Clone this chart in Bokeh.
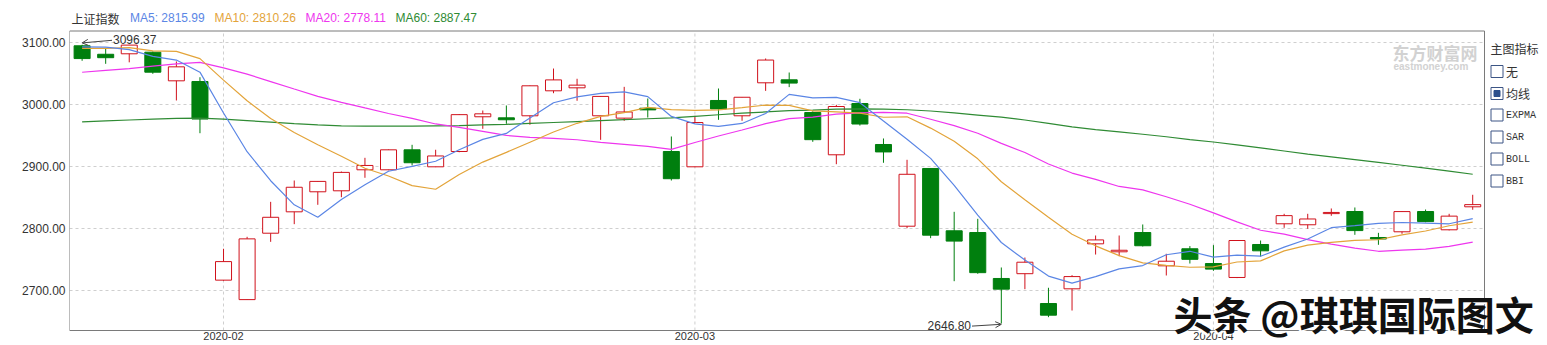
from bokeh.plotting import figure
from bokeh.models import (Range1d, FixedTicker, PrintfTickFormatter, Label, Arrow,
                          OpenHead, BoxAnnotation, ColumnDataSource)
from bokeh.embed import file_html
from bokeh.resources import INLINE

# ---------------- data ----------------
dates = ["2020-01-16", "2020-01-17", "2020-01-20", "2020-01-21", "2020-01-22", "2020-01-23",
         "2020-02-03", "2020-02-04", "2020-02-05", "2020-02-06", "2020-02-07", "2020-02-10",
         "2020-02-11", "2020-02-12", "2020-02-13", "2020-02-14", "2020-02-17", "2020-02-18",
         "2020-02-19", "2020-02-20", "2020-02-21", "2020-02-24", "2020-02-25", "2020-02-26",
         "2020-02-27", "2020-02-28", "2020-03-02", "2020-03-03", "2020-03-04", "2020-03-05",
         "2020-03-06", "2020-03-09", "2020-03-10", "2020-03-11", "2020-03-12", "2020-03-13",
         "2020-03-16", "2020-03-17", "2020-03-18", "2020-03-19", "2020-03-20", "2020-03-23",
         "2020-03-24", "2020-03-25", "2020-03-26", "2020-03-27", "2020-03-30", "2020-03-31",
         "2020-04-01", "2020-04-02", "2020-04-03", "2020-04-07", "2020-04-08", "2020-04-09",
         "2020-04-10", "2020-04-13", "2020-04-14", "2020-04-15", "2020-04-16", "2020-04-17"]

opens = [3094.7, 3081.0, 3081.8, 3084.4, 3038.2, 3037.1, 2716.7, 2685.3, 2792.4, 2826.9,
         2859.2, 2860.8, 2894.7, 2894.7, 2926.9, 2899.5, 2924.2, 2980.2, 2978.5, 2981.8,
         3022.1, 3026.9, 2981.8, 2978.0, 2994.0, 2924.2, 2899.5, 3006.5, 2981.8, 3035.0,
         3039.8, 2987.1, 2918.9, 3001.6, 2935.5, 2803.7, 2896.8, 2796.3, 2793.5, 2719.4,
         2727.1, 2679.0, 2702.7, 2775.3, 2762.4, 2793.5, 2739.8, 2767.3, 2743.5, 2721.0,
         2774.2, 2807.6, 2806.0, 2824.0, 2827.4, 2785.5, 2794.7, 2827.4, 2797.9, 2835.0]
highs = [3096.37, 3090.8, 3096.2, 3085.5, 3069.4, 3044.0, 2767.3, 2786.6, 2843.0, 2877.4,
         2876.4, 2891.9, 2914.0, 2927.5, 2935.0, 2927.0, 2984.5, 2990.3, 2998.4, 3030.6,
         3058.0, 3041.5, 3013.5, 3028.5, 3009.7, 2948.4, 2981.8, 3025.8, 3012.0, 3074.2,
         3051.6, 2989.0, 2999.5, 3009.2, 2945.2, 2910.8, 2897.5, 2826.9, 2815.6, 2737.1,
         2753.2, 2704.4, 2724.7, 2788.7, 2788.7, 2806.5, 2759.2, 2771.6, 2773.1, 2781.0,
         2780.6, 2823.7, 2823.7, 2832.3, 2833.9, 2793.0, 2828.0, 2830.6, 2823.7, 2854.4]
lows = [3070.5, 3065.6, 3068.0, 3049.5, 3006.5, 2953.7, 2715.5, 2685.3, 2778.5, 2807.0,
        2838.2, 2850.5, 2881.8, 2894.0, 2901.6, 2899.0, 2923.0, 2960.8, 2968.9, 2967.3,
        3018.2, 3006.0, 2943.0, 2973.7, 2979.0, 2877.4, 2899.0, 2975.3, 2973.7, 3022.0,
        3028.0, 2939.8, 2903.7, 2966.0, 2906.0, 2800.5, 2784.4, 2715.0, 2727.0, 2646.80,
        2702.1, 2657.0, 2667.7, 2758.0, 2755.3, 2771.0, 2724.2, 2743.5, 2731.8, 2720.0,
        2754.8, 2801.1, 2799.5, 2820.5, 2789.8, 2773.7, 2791.5, 2810.0, 2797.0, 2830.2]
closes = [3074.08, 3075.50, 3095.79, 3052.14, 3060.75, 2976.53, 2746.61, 2783.29, 2818.09, 2866.51,
          2875.96, 2890.49, 2901.67, 2926.90, 2906.07, 2917.01, 2983.62, 2984.97, 2975.40, 3030.15,
          3039.67, 3031.23, 3013.05, 2987.93, 2991.33, 2880.30, 2970.93, 2992.90, 3011.67, 3071.68,
          3034.51, 2943.29, 2996.76, 2968.52, 2923.49, 2887.43, 2789.25, 2779.64, 2728.76, 2702.13,
          2745.62, 2660.17, 2722.44, 2781.59, 2764.91, 2772.20, 2747.21, 2750.30, 2734.52, 2780.64,
          2763.99, 2820.76, 2815.37, 2825.90, 2796.63, 2783.05, 2827.28, 2811.17, 2819.94, 2838.49]

ma5 = [3093.00, 3092.40, 3088.45, 3077.51, 3071.65, 3052.14, 2986.36, 2923.86, 2877.05, 2838.21,
       2818.09, 2846.87, 2870.54, 2892.31, 2900.22, 2908.43, 2927.05, 2943.71, 2953.41, 2978.23,
       3002.76, 3012.28, 3017.90, 3020.41, 3012.64, 2980.77, 2968.71, 2964.68, 2969.43, 2985.50,
       3016.34, 3010.81, 3011.58, 3002.95, 2973.31, 2943.90, 2913.09, 2869.67, 2821.71, 2777.44,
       2749.08, 2723.26, 2711.82, 2722.39, 2734.95, 2740.26, 2757.67, 2763.24, 2753.83, 2756.97,
       2755.33, 2770.04, 2783.06, 2801.33, 2804.53, 2808.34, 2809.65, 2808.81, 2807.61, 2815.99]
ma10 = [3090.50, 3090.43, 3091.67, 3086.40, 3085.79, 3073.95, 3039.38, 3006.16, 2977.28, 2954.93,
        2935.12, 2916.62, 2897.20, 2884.68, 2869.21, 2863.26, 2886.96, 2907.13, 2922.86, 2939.22,
        2955.60, 2969.67, 2980.81, 2986.91, 2995.44, 2991.77, 2990.50, 2991.29, 2994.92, 2999.07,
        2998.55, 2989.76, 2988.13, 2986.19, 2979.41, 2980.12, 2961.95, 2940.62, 2912.33, 2875.38,
        2846.49, 2818.18, 2790.75, 2772.05, 2756.19, 2744.67, 2740.47, 2737.53, 2738.11, 2745.96,
        2747.80, 2763.86, 2773.15, 2777.58, 2780.75, 2781.84, 2789.84, 2795.93, 2804.47, 2810.26]
ma20 = [3052.0, 3055.0, 3058.0, 3062.0, 3065.5, 3068.0, 3059.0, 3049.0, 3037.0, 3025.0,
        3013.19, 3003.53, 2994.44, 2985.54, 2977.50, 2968.61, 2963.17, 2956.65, 2950.07, 2947.08,
        2945.36, 2943.15, 2939.01, 2935.80, 2932.33, 2927.52, 2938.73, 2949.21, 2958.89, 2969.15,
        2977.08, 2979.72, 2984.47, 2986.55, 2987.43, 2985.95, 2976.23, 2965.96, 2953.63, 2937.23,
        2922.52, 2903.97, 2889.44, 2879.12, 2867.80, 2862.40, 2851.21, 2839.08, 2825.22, 2810.67,
        2797.15, 2791.02, 2781.95, 2774.82, 2768.47, 2763.26, 2765.16, 2766.73, 2771.29, 2778.11]
ma60 = [2972.0, 2973.5, 2975.0, 2976.5, 2977.5, 2978.0, 2976.5, 2974.0, 2971.5, 2969.0,
        2967.0, 2965.5, 2965.0, 2965.0, 2965.0, 2965.5, 2966.0, 2967.0, 2968.0, 2969.5,
        2971.0, 2972.5, 2974.0, 2975.5, 2977.0, 2978.5, 2981.0, 2983.5, 2986.0, 2988.0,
        2990.0, 2991.0, 2992.5, 2993.0, 2992.5, 2991.5, 2989.5, 2986.5, 2983.0, 2979.5,
        2975.0, 2969.5, 2964.0, 2959.5, 2956.0, 2952.0, 2948.0, 2943.5, 2939.5, 2935.0,
        2930.0, 2925.0, 2920.0, 2915.5, 2911.0, 2906.5, 2902.0, 2897.5, 2892.5, 2887.47]

index_name = "上证指数"
ma_names = ["MA5", "MA10", "MA20", "MA60"]
y_ticks = [2700, 2800, 2900, 3000, 3100]
month_labels = ["2020-02", "2020-03", "2020-04"]
month_starts = ["2020-02-03", "2020-03-02", "2020-04-01"]
panel_title = "主图指标"
panel_items = ["无", "均线", "EXPMA", "SAR", "BOLL", "BBI"]
panel_checked = [False, True, False, False, False, False]
logo_cn = "东方财富网"
logo_en = "eastmoney.com"
watermark = "头条 @琪琪国际图文"

# ---------------- styles / geometry ----------------
RED = "#d0111b"
GREEN = "#007f0e"
MA_COLORS = ["#5b86e5", "#e3a43a", "#ee36ee", "#2f8b34"]
TXT = "#333333"
GRID = "#cfcfcf"
BORDER = "#7a7a7a"
BOXBLUE = "#3c5585"
SANS = "Liberation Sans"
CJK = "Noto Sans CJK SC"
MONO = "Liberation Mono"

W, H = 1547, 345
FL = 69                       # left edge of the chart box (px)
CR, CT, CB = 1484, 30.5, 330  # chart box right / top / bottom (px)
IDX_L, IDX_R = -0.535, 59.5   # index values at the chart box left / right
PX_PER_IDX = (CR - FL) / (IDX_R - IDX_L)
Y_REF, PY_REF, PX_PER_PT = 3100.0, 42.0, 0.62


def px_x(px):
    return IDX_L + (px - FL) / PX_PER_IDX


def px_y(py):
    return Y_REF - (py - PY_REF) / PX_PER_PT


p = figure(width=W, height=H, x_range=Range1d(px_x(FL), px_x(W)),
           y_range=Range1d(px_y(H), px_y(0)), title=None, x_axis_location=None,
           output_backend="svg", toolbar_location=None,
           min_border_left=FL, min_border_right=0, min_border_top=0, min_border_bottom=0)
p.background_fill_color = "white"
p.border_fill_color = "white"
p.outline_line_color = None
p.xgrid.visible = False
p.ygrid.visible = False

ax = p.yaxis[0]
ax.ticker = FixedTicker(ticks=y_ticks)
ax.formatter = PrintfTickFormatter(format="%.2f")
ax.major_tick_out = 0
ax.major_tick_in = 0
ax.minor_tick_out = 0
ax.minor_tick_in = 0
ax.axis_line_color = None
ax.major_label_text_font = SANS
ax.major_label_text_font_size = "12px"
ax.major_label_text_color = TXT
ax.major_label_standoff = 4

# grid lines limited to the chart box
box_l, box_r, box_t, box_b = px_x(FL), px_x(CR), px_y(CT), px_y(CB)
p.segment(x0=[box_l] * len(y_ticks), y0=y_ticks, x1=[box_r] * len(y_ticks), y1=y_ticks,
          line_color=GRID, line_dash="3 3", line_width=1)
mx = [dates.index(d) for d in month_starts]
p.segment(x0=mx, y0=[box_b] * len(mx), x1=mx, y1=[box_t] * len(mx),
          line_color=GRID, line_dash="3 3", line_width=1)

# ---------------- candles ----------------
xs = list(range(len(dates)))
up = [c >= o for o, c in zip(opens, closes)]


def subset(flag):
    sel = [i for i in xs if up[i] == flag]
    return ColumnDataSource(dict(x=sel, o=[opens[i] for i in sel], c=[closes[i] for i in sel],
                                 h=[highs[i] for i in sel], l=[lows[i] for i in sel]))


src_up = subset(True)
src_dn = subset(False)
p.segment(x0="x", y0="h", x1="x", y1="l", source=src_up, line_color=RED, line_width=1)
p.segment(x0="x", y0="h", x1="x", y1="l", source=src_dn, line_color=GREEN, line_width=1)
p.vbar(x="x", width=0.68, top="c", bottom="o", source=src_up, fill_color="white",
       line_color=RED, line_width=1)
p.vbar(x="x", width=0.68, top="o", bottom="c", source=src_dn, fill_color=GREEN,
       line_color=GREEN, line_width=1)

# ---------------- moving averages ----------------
for series, col in zip([ma60, ma20, ma10, ma5], MA_COLORS[::-1]):
    p.line(xs, series, line_color=col, line_width=1.2)

# chart box border
p.add_layout(BoxAnnotation(left=box_l, right=box_r, top=box_t, bottom=box_b,
                           fill_alpha=0, fill_color=None, line_color=BORDER,
                           line_alpha=1, line_width=1))

# ---------------- header legend ----------------
p.add_layout(Label(x=px_x(71), y=px_y(17.7), text=index_name, text_font=CJK,
                   text_font_size="12px", text_color=TXT, text_baseline="middle",
                   text_align="left"))
last_vals = [ma5[-1], ma10[-1], ma20[-1], ma60[-1]]
for name, v, col, lx in zip(ma_names, last_vals, MA_COLORS, [129.5, 214, 305, 395]):
    p.add_layout(Label(x=px_x(lx), y=px_y(17.7), text=f"{name}: {v:.2f}", text_font=SANS,
                       text_font_size="12px", text_color=col, text_baseline="middle",
                       text_align="left"))

# ---------------- high / low markers ----------------
hi_i = highs.index(max(highs))
lo_i = lows.index(min(lows))
p.add_layout(Arrow(x_start=px_x(111.5), y_start=px_y(39.8), x_end=hi_i, y_end=px_y(42.4),
                   end=OpenHead(size=6, line_color="#444", line_width=1),
                   line_color="#444", line_width=1))
p.add_layout(Label(x=px_x(112.5), y=px_y(38.6), text=f"{highs[hi_i]:.2f}", text_font=SANS,
                   text_font_size="12px", text_color=TXT, text_baseline="middle",
                   text_align="left"))
p.add_layout(Arrow(x_start=px_x(971.5), y_start=px_y(325.6), x_end=lo_i, y_end=px_y(323.8),
                   end=OpenHead(size=6, line_color="#444", line_width=1),
                   line_color="#444", line_width=1))
p.add_layout(Label(x=px_x(970.5), y=px_y(324.8), text=f"{lows[lo_i]:.2f}", text_font=SANS,
                   text_font_size="12px", text_color=TXT, text_baseline="middle",
                   text_align="right"))

# ---------------- month labels ----------------
for d, lab in zip(month_starts, month_labels):
    p.add_layout(Label(x=dates.index(d), y=px_y(331.5), text=lab, text_font=SANS,
                       text_font_size="11px", text_color=TXT, text_baseline="top",
                       text_align="center"))

# ---------------- logo watermark ----------------
p.add_layout(Label(x=px_x(1392), y=px_y(51.5), text=logo_cn, text_font=CJK,
                   text_font_size="17px", text_font_style="bold", text_color="#d2d2d2",
                   text_baseline="middle", text_align="left"))
p.add_layout(Label(x=px_x(1393), y=px_y(65.5), text=logo_en, text_font=SANS,
                   text_font_size="10px", text_font_style="bold", text_color="#d2d2d2",
                   text_baseline="middle", text_align="left"))

# ---------------- right side panel ----------------
p.add_layout(Label(x=px_x(1490), y=px_y(48), text=panel_title, text_font=CJK,
                   text_font_size="12px", text_color=TXT, text_baseline="middle",
                   text_align="left"))
row_y = [71, 93, 114.5, 136.5, 158.5, 180.5]
for item, chk, cy in zip(panel_items, panel_checked, row_y):
    p.add_layout(BoxAnnotation(left=px_x(1490.5), right=px_x(1502.5), top=px_y(cy - 6),
                               bottom=px_y(cy + 6), fill_color="white", fill_alpha=1,
                               line_color=BOXBLUE, line_alpha=1, line_width=1))
    if chk:
        p.add_layout(BoxAnnotation(left=px_x(1493.5), right=px_x(1499.5), top=px_y(cy - 3),
                                   bottom=px_y(cy + 3), fill_color="#2c4f8c", fill_alpha=1,
                                   line_color="#2c4f8c", line_alpha=1, line_width=1))
    ascii_item = item.isascii()
    p.add_layout(Label(x=px_x(1505.5), y=px_y(cy), text=item,
                       text_font=MONO if ascii_item else CJK,
                       text_font_size="10px" if ascii_item else "12px",
                       text_color=TXT, text_baseline="middle", text_align="left"))

# ---------------- big watermark ----------------
p.add_layout(Label(x=px_x(1171), y=px_y(314), text=watermark, text_font=CJK,
                   text_font_size="39px", text_font_style="bold", text_color="#ffffff",
                   text_baseline="middle", text_align="left"))
p.add_layout(Label(x=px_x(1173), y=px_y(312), text=watermark, text_font=CJK,
                   text_font_size="39px", text_font_style="bold", text_color="#111111",
                   text_baseline="middle", text_align="left"))

open("out.html", "w").write(file_html(p, INLINE))
